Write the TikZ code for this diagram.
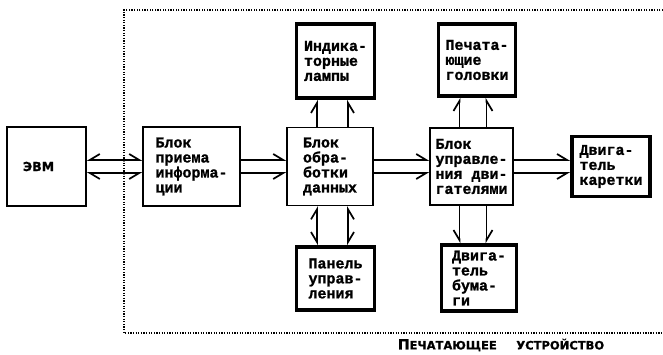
\documentclass[tikz,border=0pt]{standalone}
\usepackage{fontspec}
\setmonofont[BoldFeatures={FakeBold=1.2}]{Liberation Mono}
\newfontfamily\labfont[BoldFeatures={FakeBold=1}]{DejaVu Sans}
\usepackage{tikz}
\usetikzlibrary{arrows.meta, positioning, calc}

\tikzset{
  blk/.style={draw, line width=1.5pt, align=left, inner sep=2pt,
    font=\ttfamily\bfseries\fontsize{15}{15}\selectfont},
  dev/.style={blk, line width=3.8pt},
  bus/.style={line width=1.7pt},
  barbL/.tip={Straight Barb[left, length=10pt, width=12pt, line width=1.7pt]},
  barbR/.tip={Straight Barb[right, length=10pt, width=12pt, line width=1.7pt]},
}

\begin{document}
\begin{tikzpicture}[x=1pt, y=-1pt]
\useasboundingbox (0,0) rectangle (663,355);

% --- RAMKA PECHATAYUSHCHEGO USTROJSTVA ---
\coordinate (fr) at (124,10);
\draw[line width=1.4pt, dash pattern=on 1.3pt off 1.3pt] (663,10) -- (fr) -- (124,333) -- (663,333);
\node[font=\labfont\bfseries\fontsize{11.5}{11.5}\selectfont] (cap) at (501,345)
  {{\fontsize{14}{14}\selectfont П}ЕЧАТАЮЩЕЕ\hspace{1.7em}УСТРОЙСТВО};

% --- BLOKI ---
\node[blk, text width=47pt, inner xsep=16pt, minimum height=79pt,
  font=\labfont\bfseries\fontsize{12.5}{12.5}\selectfont] (evm) at (46.5,166.5) {ЭВМ};
\node[blk, minimum width=97pt, minimum height=79pt] (priem) at (191.5,166.5) {Блок\\приема\\информа-\\ции};
\node[blk, minimum width=86pt, minimum height=78pt] (obr) at (330,166.5) {Блок\\обра-\\ботки\\данных};
\node[blk, minimum width=83pt, minimum height=77pt] (upr) at (471.5,166.5) {Блок\\управле-\\ния дви-\\гателями};

% --- USTROJSTVA (zhirnaya ramka) ---
\node[dev, minimum width=78pt, minimum height=60pt] (karet) at (611,166.5) {Двига-\\тель\\каретки};
\node[dev, minimum width=78pt, minimum height=74pt] (lamp) at (335.5,61) {Индика-\\торные\\лампы};
\node[dev, minimum width=77pt, minimum height=72pt] (golov) at (477,60) {Печата-\\ющие\\головки};
\node[dev, minimum width=78pt, minimum height=63pt] (panel) at (335.5,278.5) {Панель\\управ-\\ления};
\node[dev, minimum width=75pt, minimum height=66pt, inner sep=0pt] (bumag) at (479,278) {Двига-\\тель\\бума-\\ги};

% --- SHINY ---
\draw[bus, barbR-barbL] ([yshift=6.5pt]evm.east) -- ([yshift=6.5pt]priem.west);
\draw[bus, barbL-barbR] ([yshift=-6.5pt]evm.east) -- ([yshift=-6.5pt]priem.west);
\fill ([yshift=6.5pt]evm.east -| fr) circle (1.9pt);
\fill ([yshift=-6.5pt]evm.east -| fr) circle (1.9pt);

\draw[bus, -barbL] ([yshift=6.5pt]priem.east) -- ([yshift=6.5pt]obr.west);
\draw[bus, -barbR] ([yshift=-6.5pt]priem.east) -- ([yshift=-6.5pt]obr.west);
\draw[bus, -barbL] ([yshift=6.5pt]obr.east) -- ([yshift=6.5pt]upr.west);
\draw[bus, -barbR] ([yshift=-6.5pt]obr.east) -- ([yshift=-6.5pt]upr.west);
\draw[bus, -barbL] ([yshift=6.5pt]upr.east) -- ([yshift=6.5pt]karet.west);
\draw[bus, -barbR] ([yshift=-6.5pt]upr.east) -- ([yshift=-6.5pt]karet.west);

\draw[bus, -barbL] ([xshift=-13pt]obr.north) -- ([xshift=-13pt]obr.north |- lamp.south);
\draw[bus, -barbR] ([xshift=18pt]obr.north) -- ([xshift=18pt]obr.north |- lamp.south);
\draw[bus, barbL-barbR] ([xshift=-13pt]obr.south) -- ([xshift=-13pt]obr.south |- panel.north);
\draw[bus, barbR-barbL] ([xshift=18pt]obr.south) -- ([xshift=18pt]obr.south |- panel.north);

\draw[bus, -barbL] ([xshift=-12pt]upr.north) -- ([xshift=-12pt]upr.north |- golov.south);
\draw[bus, -barbR] ([xshift=15pt]upr.north) -- ([xshift=15pt]upr.north |- golov.south);
\draw[bus, -barbR] ([xshift=-12pt]upr.south) -- ([xshift=-12pt]upr.south |- bumag.north);
\draw[bus, -barbL] ([xshift=15pt]upr.south) -- ([xshift=15pt]upr.south |- bumag.north);
\end{tikzpicture}
\end{document}
